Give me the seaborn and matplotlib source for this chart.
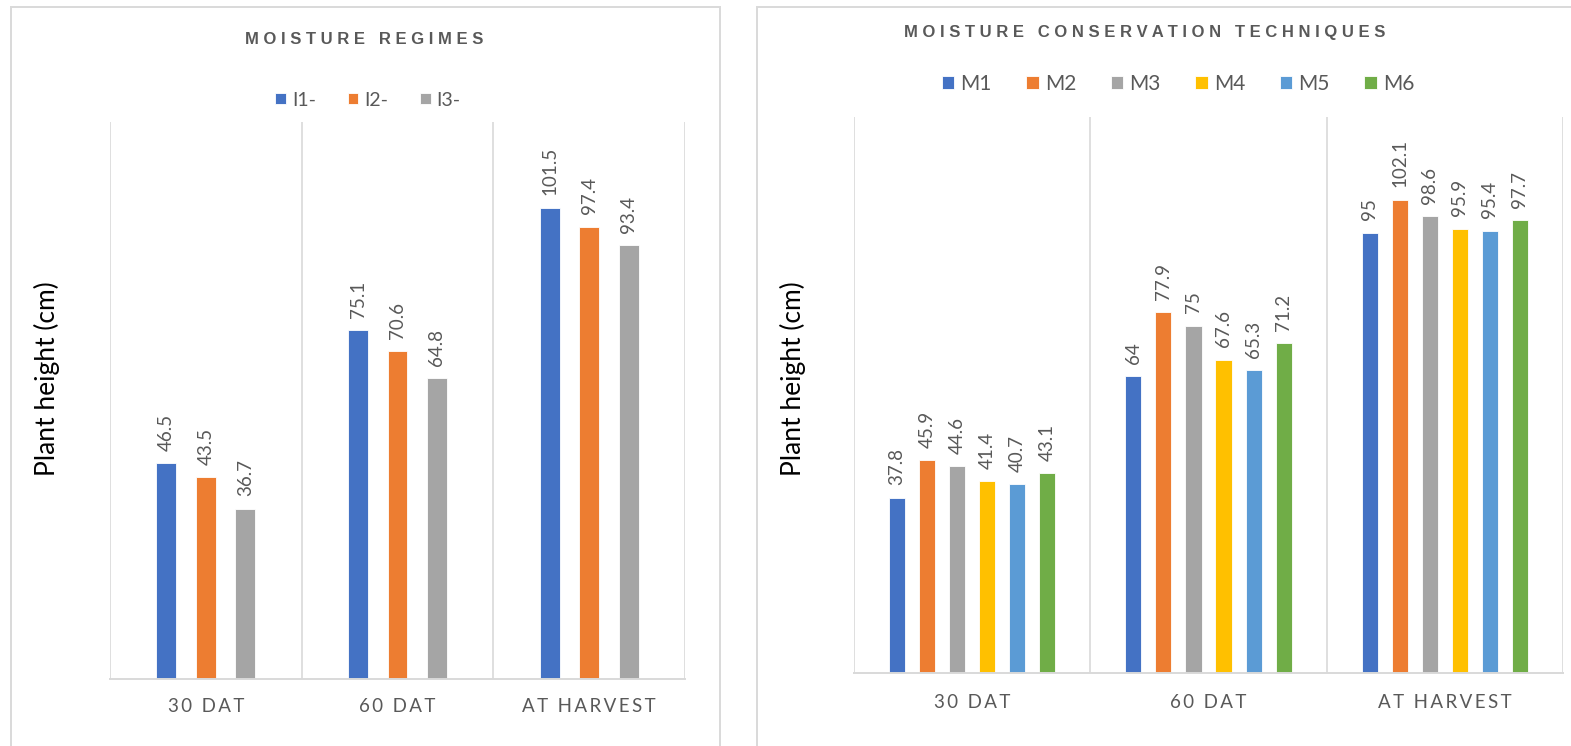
import matplotlib
matplotlib.use("Agg")
import matplotlib.pyplot as plt
from matplotlib.patches import Rectangle
import seaborn as sns
import pandas as pd

# ---- data -------------------------------------------------------------
stages = ["30 DAT", "60 DAT", "AT HARVEST"]

regimes = ["I1-", "I2-", "I3-"]
regime_heights = {
    "I1-": [46.5, 75.1, 101.5],
    "I2-": [43.5, 70.6, 97.4],
    "I3-": [36.7, 64.8, 93.4],
}

techniques = ["M1", "M2", "M3", "M4", "M5", "M6"]
technique_heights = {
    "M1": [37.8, 64.0, 95.0],
    "M2": [45.9, 77.9, 102.1],
    "M3": [44.6, 75.0, 98.6],
    "M4": [41.4, 67.6, 95.9],
    "M5": [40.7, 65.3, 95.4],
    "M6": [43.1, 71.2, 97.7],
}

regime_colors = ["#4472C4", "#ED7D31", "#A5A5A5"]
technique_colors = ["#4472C4", "#ED7D31", "#A5A5A5", "#FFC000", "#5B9BD5", "#70AD47"]

TEXT = "#595959"
GRID = "#D9D9D9"
FONT = ["Lato", "DejaVu Sans"]
TITLE_FONT = ["Liberation Sans", "DejaVu Sans"]


def long_frame(series_names, values):
    rows = []
    for name in series_names:
        for stage, v in zip(stages, values[name]):
            rows.append({"stage": stage, "series": name, "height": v})
    return pd.DataFrame(rows)


def spaced(text, sep="\u2009", word_sep="  "):
    return word_sep.join(sep.join(word) for word in text.split(" "))


sns.set_theme(style="white")
plt.rcParams["font.family"] = FONT

W, H = 1571, 746
fig = plt.figure(figsize=(W / 100, H / 100), dpi=100)


def px_axes(x0, x1, ytop, ybot):
    return fig.add_axes([x0 / W, 1 - ybot / H, (x1 - x0) / W, (ybot - ytop) / H])


def panel(ax, df, order, colors, width, gap, label_pad):
    sns.barplot(data=df, x="stage", y="height", hue="series", hue_order=order,
                order=stages, palette=colors, width=width, gap=gap,
                saturation=1, ax=ax, legend=True, errorbar=None,
                edgecolor="white", linewidth=0.6)
    handles, labels = ax.get_legend_handles_labels()
    ax.get_legend().remove()
    ax.set_xlim(-0.5, 2.5)
    ax.set_ylim(0, 120)
    ax.set_yticks([])
    ax.set_xlabel("")
    ax.set_ylabel("")
    for s in ("top", "left", "right"):
        ax.spines[s].set_visible(False)
    ax.spines["bottom"].set_color(GRID)
    ax.spines["bottom"].set_linewidth(1.4)
    for xb in (-0.5, 0.5, 1.5, 2.5):
        ax.axvline(xb, color=GRID, lw=1.2, zorder=0)
    ax.set_xticks(range(len(stages)))
    ax.set_xticklabels([spaced(s) for s in stages], color=TEXT, fontsize=13.5)
    ax.tick_params(axis="x", length=0, pad=label_pad)
    for cont in ax.containers:
        vals = [b.get_height() for b in cont]
        ax.bar_label(cont, labels=[f"{v:g}" for v in vals], rotation=90,
                     padding=9, color=TEXT, fontsize=13.5)
    return handles, labels


def panel_frame(x0, x1, ytop):
    fig.add_artist(Rectangle((x0 / W, -0.2), (x1 - x0) / W, 1 - ytop / H + 0.2,
                             transform=fig.transFigure, fill=False,
                             edgecolor=GRID, lw=1.4))


def title(x, y, text):
    fig.text(x / W, 1 - y / H, spaced(text, " ", "   "), ha="center",
             va="center", color=TEXT, fontsize=12, fontweight="bold",
             family=TITLE_FONT)


# ---- left: moisture regimes -------------------------------------------
panel_frame(11, 720, 7)
ax1 = px_axes(110, 685, 122, 679)
h1, l1 = panel(ax1, long_frame(regimes, regime_heights), regimes,
               regime_colors, 0.617, 0.495, 14)
title(364, 40, "MOISTURE REGIMES")
fig.legend(h1, l1, loc="center", bbox_to_anchor=(368 / W, 1 - 100 / H),
           ncol=3, frameon=False, fontsize=14, labelcolor=TEXT,
           handlelength=0.55, handleheight=0.55, handletextpad=0.3,
           columnspacing=1.64)
fig.text(47 / W, 1 - 379 / H, "Plant height (cm)", rotation=90, ha="center",
         va="center", color="black", fontsize=19)

# ---- right: moisture conservation techniques --------------------------
panel_frame(757, 1600, 7)
ax2 = px_axes(854, 1563, 117, 673)
h2, l2 = panel(ax2, long_frame(techniques, technique_heights), techniques,
               technique_colors, 0.763, 0.465, 15)
title(1145, 33, "MOISTURE CONSERVATION TECHNIQUES")
fig.legend(h2, l2, loc="center", bbox_to_anchor=(1178 / W, 1 - 84 / H),
           ncol=6, frameon=False, fontsize=15, labelcolor=TEXT,
           handlelength=0.6, handleheight=0.6, handletextpad=0.3,
           columnspacing=1.65)
fig.text(793 / W, 1 - 379 / H, "Plant height (cm)", rotation=90, ha="center",
         va="center", color="black", fontsize=19)

fig.savefig("out.png", dpi=100, facecolor="white")
